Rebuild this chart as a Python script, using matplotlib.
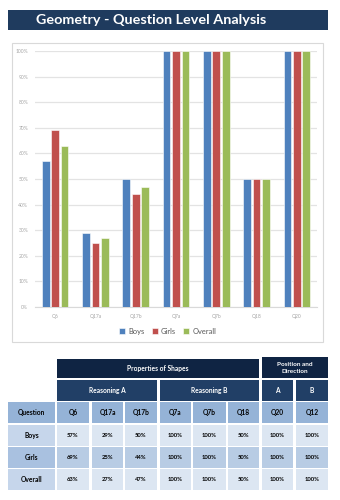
import matplotlib
matplotlib.use("Agg")
import matplotlib.pyplot as plt
from matplotlib.patches import Rectangle
import numpy as np

plt.rcParams['font.family'] = ['Lato', 'DejaVu Sans']

# ---- data ----
chart_questions = ["Q6", "Q17a", "Q17b", "Q7a", "Q7b", "Q18", "Q20"]
boys = [57, 29, 50, 100, 100, 50, 100]
girls = [69, 25, 44, 100, 100, 50, 100]
overall = [63, 27, 47, 100, 100, 50, 100]
series_names = ["Boys", "Girls", "Overall"]
y_ticks = [0, 10, 20, 30, 40, 50, 60, 70, 80, 90, 100]

table_questions = ["Q6", "Q17a", "Q17b", "Q7a", "Q7b", "Q18", "Q20", "Q12"]
table_boys = [57, 29, 50, 100, 100, 50, 100, 100]
table_girls = [69, 25, 44, 100, 100, 50, 100, 100]
table_overall = [63, 27, 47, 100, 100, 50, 100, 100]
row_labels = ["Boys", "Girls", "Overall"]
top_headers = ["Properties of Shapes", "Position and\nDirection"]
sub_headers = ["Reasoning A", "Reasoning B", "A", "B"]
title = "Geometry - Question Level Analysis"

W, H = 340, 500
fig = plt.figure(figsize=(W / 100, H / 100), dpi=100)

def px_axes(x0, y0, x1, y1, **kw):
    return fig.add_axes([x0 / W, 1 - y1 / H, (x1 - x0) / W, (y1 - y0) / H], **kw)

# overlay axes in pixel coordinates
ov = px_axes(0, 0, W, H)
ov.set_xlim(0, W)
ov.set_ylim(H, 0)
ov.axis('off')
ov.set_zorder(1)

# title banner
ov.add_patch(Rectangle((8, 10), 320, 20, facecolor='#1F3B5E', edgecolor='none'))
ov.text(151, 20.5, title, color='white', fontsize=10.4, fontweight='bold',
        ha='center', va='center')

# chart frame
ov.add_patch(Rectangle((12, 43), 311, 299, facecolor='white', edgecolor='#D9D9D9', lw=0.8))

# ---- bar chart ----
ax = px_axes(35, 51, 317, 307)
ax.set_zorder(2)
x = np.arange(len(chart_questions))
bw = 0.19
off = 0.235
colors = ['#4F81BD', '#C0504D', '#9BBB59']
for i, (vals, c) in enumerate(zip([boys, girls, overall], colors)):
    ax.bar(x + (i - 1) * off, vals, width=bw, color=c, label=series_names[i],
           edgecolor='white', linewidth=0.4, zorder=3)
ax.set_xlim(-0.5, len(chart_questions) - 0.5)
ax.set_ylim(0, 100)
ax.set_yticks(y_ticks)
ax.set_yticklabels([f"{t}%" for t in y_ticks])
ax.set_xticks(x)
ax.set_xticklabels(chart_questions)
ax.tick_params(axis='both', length=0, labelsize=3.6, labelcolor='#A6A6A6')
ax.tick_params(axis='y', pad=5)
ax.tick_params(axis='x', pad=5)
ax.grid(axis='y', color='#E3E3E3', linewidth=0.9, zorder=0)
ax.set_axisbelow(True)
for s in ['top', 'right', 'left']:
    ax.spines[s].set_visible(False)
ax.spines['bottom'].set_color('#D9D9D9')
ax.patch.set_alpha(0)
leg = ax.legend(loc='center', bbox_to_anchor=(0.47, -0.095), ncol=3, frameon=False,
                fontsize=5.4, handlelength=0.8, handleheight=0.8, handletextpad=0.4,
                columnspacing=1.0, labelcolor='#595959')

# ---- table ----
col_edges = [(8, 55), (57, 89), (92, 123), (125, 157), (160, 191), (193, 226),
             (228, 259), (262, 293), (296, 328)]
row_edges = [(359, 378), (380, 401), (402, 423), (425, 446), (447, 468), (469, 490)]

def cell(x0, x1, y0, y1, fc, text, tc='black', fs=4.6, bold=True):
    ov.add_patch(Rectangle((x0, y0), x1 - x0, y1 - y0, facecolor=fc, edgecolor='none'))
    ov.text((x0 + x1) / 2, (y0 + y1) / 2 + 0.3, text, ha='center', va='center',
            color=tc, fontsize=fs, fontweight='bold' if bold else 'normal',
            linespacing=1.5)

dark1 = '#0F2443'
dark2 = '#213F66'
# top header
cell(col_edges[1][0], col_edges[6][1], row_edges[0][0], row_edges[0][1], dark1,
     top_headers[0], tc='white', fs=4.8)
cell(col_edges[7][0], col_edges[8][1], 357, row_edges[0][1], dark1,
     top_headers[1], tc='white', fs=4.6)
# sub headers
cell(col_edges[1][0], col_edges[3][1], *row_edges[1], dark2, sub_headers[0], tc='white', fs=4.8)
cell(col_edges[4][0], col_edges[6][1], *row_edges[1], dark2, sub_headers[1], tc='white', fs=4.8)
cell(col_edges[7][0], col_edges[7][1], *row_edges[1], dark2, sub_headers[2], tc='white', fs=4.8)
cell(col_edges[8][0], col_edges[8][1], *row_edges[1], dark2, sub_headers[3], tc='white', fs=4.8)
# question row
cell(col_edges[0][0], col_edges[0][1], *row_edges[2], '#95B3D7', "Question", fs=4.8)
for j, q in enumerate(table_questions):
    cell(col_edges[j + 1][0], col_edges[j + 1][1], *row_edges[2], '#95B3D7', q, fs=4.8)
# data rows
label_fc = ['#C6D6EB', '#A9C1E0', '#C6D6EB']
data_fc = ['#DCE6F2', '#B8CCE4', '#DCE6F2']
for r, (lab, vals) in enumerate(zip(row_labels, [table_boys, table_girls, table_overall])):
    y0, y1 = row_edges[3 + r]
    cell(col_edges[0][0], col_edges[0][1], y0, y1, label_fc[r], lab, fs=4.8)
    for j, v in enumerate(vals):
        cell(col_edges[j + 1][0], col_edges[j + 1][1], y0, y1, data_fc[r], f"{v}%", fs=4.2)

fig.savefig("out.png", dpi=100)
